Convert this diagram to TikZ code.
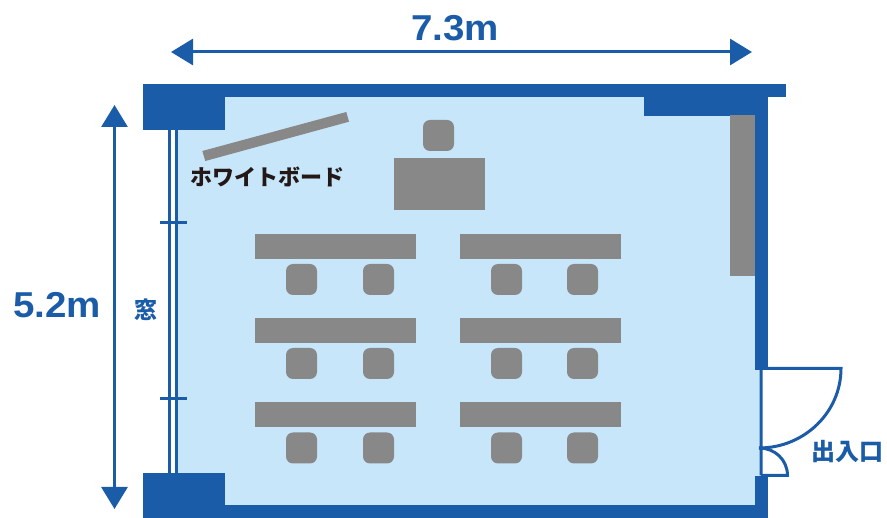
\documentclass[tikz,border=0pt]{standalone}
\usepackage{fontspec}
\usetikzlibrary{arrows.meta}
\setmainfont{Liberation Sans}
\newfontfamily\jpfont{Noto Sans CJK JP}
\definecolor{wallblue}{HTML}{1B5CA8}
\definecolor{roomblue}{HTML}{C7E6FA}
\definecolor{furn}{HTML}{888888}
\definecolor{inktext}{HTML}{231815}
\tikzset{
  wall/.style={fill=wallblue,draw=none},
  furniture/.style={fill=furn,draw=none},
  seat/.style={fill=furn,draw=none,rounded corners=7pt},
  thinblue/.style={draw=wallblue,line width=3pt},
  dimline/.style={draw=wallblue,line width=3pt,{Triangle[length=22pt,width=26pt]}-{Triangle[length=22pt,width=26pt]}},
  dimtext/.style={text=wallblue,font=\fontsize{36}{36}\selectfont\bfseries,inner sep=0pt,xscale=1.07},
  jplabel/.style={font=\fontsize{#1}{#1}\selectfont\bfseries\jpfont,inner sep=0pt},
}
\begin{document}
\begin{tikzpicture}[x=1pt,y=-1pt]
\useasboundingbox (0,0) rectangle (887,518);
% room floor
\fill[roomblue] (178,97) rectangle (755,505);
\fill[roomblue] (755,369) rectangle (761,477);
% window lines
\draw[thinblue] (169.5,128) -- (169.5,475);
\draw[thinblue] (176.5,128) -- (176.5,475);
\draw[thinblue] (160,223) -- (187,223);
\draw[thinblue] (160,399) -- (187,399);
% walls
\fill[wall] (143,84) rectangle (786,97);
\fill[wall] (143,84) rectangle (225,130);
\fill[wall] (644,84) rectangle (768,116);
\fill[wall] (755,84) rectangle (768,370);
\fill[wall] (755,476) rectangle (768,518);
\fill[wall] (143,505) rectangle (768,518);
\fill[wall] (143,473) rectangle (225,518);
% door
\coordinate (doorA) at (761,368.5);
\coordinate (doorB) at (761,475.5);
\coordinate (doorC) at (841,368.5);
\coordinate (doorD) at (759,448);
\coordinate (doorE) at (787.5,475.5);
\draw[thinblue] (doorB) -- (doorA) -- (doorC)
  .. controls (841,412.5) and (804,448) .. (doorD);
\draw[thinblue] (doorD) .. controls (775,448) and (787.5,460) .. (doorE) -- (doorB);
% furniture
\fill[furniture] (730,115) rectangle (755,276);
\fill[furniture] (202.3,151) -- (346.3,112) -- (349,121.7) -- (205.3,161) -- cycle;
\fill[furniture] (394,158) rectangle (485,210);
\fill[seat] (423,120) rectangle (454,151);
\foreach \ty/\cy in {234/264,318/348,402/432.5}{
  \fill[furniture] (255,\ty) rectangle (416,\ty+25);
  \fill[furniture] (460,\ty) rectangle (621,\ty+25);
  \foreach \cx in {286,363,491,567}{
    \fill[seat] (\cx,\cy) rectangle (\cx+31,\cy+31);
  }
}
% dimensions
\coordinate (wl) at (171,52);
\coordinate (wr) at (752,52);
\coordinate (ht) at (114.5,105);
\coordinate (hb) at (114.5,509);
\draw[dimline] (wl) -- (wr);
\draw[dimline] (ht) -- (hb);
% labels
\node[dimtext] (width) at (455,28) {7.3m};
\node[dimtext] (height) at (57,305) {5.2m};
\node[jplabel=22,text=inktext] (board) at (267.5,177) {ホワイトボード};
\node[jplabel=23,text=wallblue] (win) at (146,310) {窓};
\node[jplabel=24,text=wallblue] (entry) at (847,452) {出入口};
\end{tikzpicture}
\end{document}
